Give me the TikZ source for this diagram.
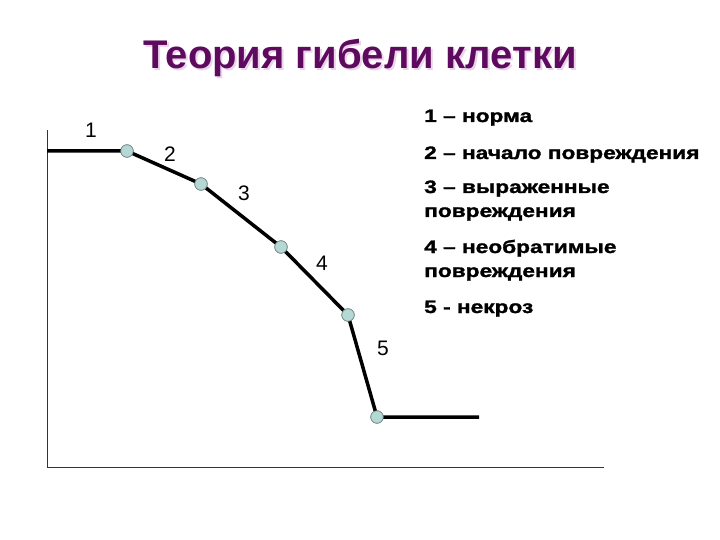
\documentclass[tikz,border=0pt]{standalone}
\usepackage{fontspec}
\setmainfont{Liberation Sans}
\newfontfamily\legendfont[FakeStretch=1.26,FakeBold=1.5]{Liberation Sans Bold}
\definecolor{titlec}{HTML}{5E0A5E}
\definecolor{shadowc}{HTML}{EAD4EA}
\definecolor{dotc}{HTML}{B4D8D4}
\definecolor{dotb}{HTML}{7A8A8A}
\tikzset{
  axis/.style={line width=0.8pt, black!80},
  curve/.style={line width=3.5pt, black, line join=round},
  dot/.style={circle, fill=dotc, draw=dotb, line width=0.7pt, minimum size=12.5pt, inner sep=0pt},
  numlbl/.style={font=\fontsize{21}{24}\selectfont, anchor=base},
  legend/.style={font=\legendfont\fontsize{18}{24}\selectfont, anchor=base west, inner sep=0pt},
}
\begin{document}
\begin{tikzpicture}[x=1pt,y=-1pt]
\useasboundingbox (0,0) rectangle (720,540);
% title
\node[anchor=base, text=shadowc, font=\bfseries\fontsize{40}{48}\selectfont] (ts) at (362,71) {Теория гибели клетки};
\node[anchor=base, text=titlec, font=\bfseries\fontsize{40}{48}\selectfont] (title) at (360,69) {Теория гибели клетки};
% axes
\coordinate (ytop) at (47,130);
\coordinate (orig) at (47,467);
\coordinate (xend) at (604,467);
\draw[axis] (ytop) -- (orig) -- (xend);
% curve points
\coordinate (p0) at (47,151);
\node[dot] (p1) at (127,151) {};
\node[dot] (p2) at (201,184) {};
\node[dot] (p3) at (281,247) {};
\node[dot] (p4) at (348,315) {};
\node[dot] (p5) at (377,417) {};
\coordinate (pend) at (479,417);
\draw[curve] (p0) -- (p1.center) -- (p2.center) -- (p3.center) -- (p4.center) -- (p5.center) -- (pend);
\foreach \p in {p1,p2,p3,p4,p5} \node[dot] at (\p) {};
% segment labels
\node[numlbl] (l1) at (91,138) {1};
\node[numlbl] (l2) at (170,162) {2};
\node[numlbl] (l3) at (244,201) {3};
\node[numlbl] (l4) at (322,270) {4};
\node[numlbl] (l5) at (383,355) {5};
% legend
\node[legend] (g1) at (424,122) {1 – норма};
\node[legend] (g2) at (424,159) {2 – начало повреждения};
\node[legend] (g3) at (424,193) {3 – выраженные};
\node[legend] (g3b) at (424,217) {повреждения};
\node[legend] (g4) at (424,253) {4 – необратимые};
\node[legend] (g4b) at (424,277) {повреждения};
\node[legend] (g5) at (424,313) {5 - некроз};
\end{tikzpicture}
\end{document}
